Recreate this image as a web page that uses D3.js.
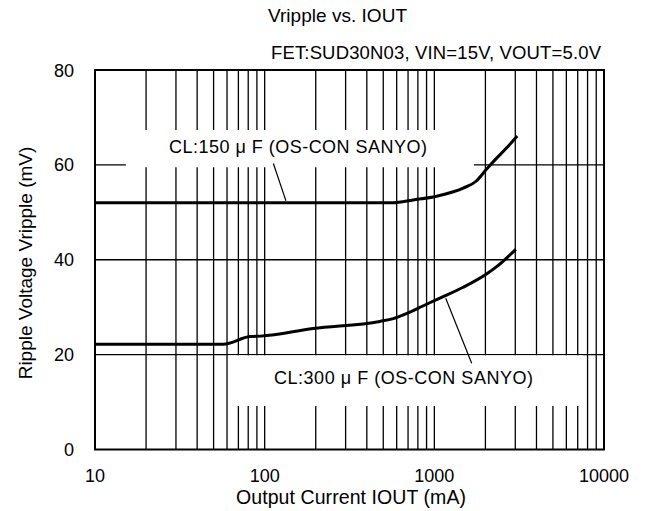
<!DOCTYPE html>
<html>
<head>
<meta charset="utf-8">
<script src="https://cdn.jsdelivr.net/npm/d3@7"></script>
<style>
  html, body { margin: 0; padding: 0; background: #fff; }
  svg text { font-family: "Liberation Sans", Arial, Helvetica, sans-serif; fill: #000; }
</style>
</head>
<body>
<svg id="chart" width="650" height="511"></svg>
<script>
// ---- data ----
const titleText = "Vripple vs. IOUT";
const subtitleText = "FET:SUD30N03, VIN=15V, VOUT=5.0V";
const xLabel = "Output Current IOUT (mA)";
const yLabel = "Ripple Voltage Vripple (mV)";
const xTickValues = [10, 100, 1000, 10000];
const yTickValues = [0, 20, 40, 60, 80];
const yGridValues = [20, 40, 60];

const cl150Current = [10, 100, 400, 570, 750, 1030, 1480, 1770, 2010, 2270, 2670, 3080];
const cl150Ripple  = [52.0, 52.0, 52.0, 52.0, 52.6, 53.4, 55.1, 56.6, 58.9, 61.0, 63.6, 66.1];

const cl300Current = [10, 30, 57, 82, 95, 193, 478, 573, 700, 850, 1030, 1480, 2030, 2340, 3020];
const cl300Ripple  = [22.2, 22.2, 22.2, 23.8, 23.9, 25.5, 27.0, 27.6, 28.8, 30.2, 31.6, 34.2, 37.0, 38.6, 42.2];

const label150 = "CL:150 \u03bc F (OS-CON SANYO)";
const label300 = "CL:300 \u03bc F (OS-CON SANYO)";

// ---- layout ----
const svg = d3.select("#chart");
const x = d3.scaleLog().domain([10, 10000]).range([95, 604]);
const y = d3.scaleLinear().domain([0, 80]).range([449.5, 70]);
const FS = 18;

// vertical grid lines
const gridX = x.ticks().filter(v => v > 10 && v < 10000);
svg.append("g").selectAll("line").data(gridX).join("line")
  .attr("x1", d => x(d)).attr("x2", d => x(d))
  .attr("y1", y(80)).attr("y2", y(0))
  .attr("stroke", "#000").attr("stroke-width", 1.3);

// horizontal grid lines
svg.append("g").selectAll("line").data(yGridValues).join("line")
  .attr("x1", x(10)).attr("x2", x(10000))
  .attr("y1", d => y(d)).attr("y2", d => y(d))
  .attr("stroke", "#000").attr("stroke-width", 1.3);

// label boxes (white, covering grid)
const boxes = [
  { x0: 15.2, x1: 1710, y0: 67.35, y1: 59.5 },
  { x0: 61, x1: 7516, y0: 19.85, y1: 9.17 }
];
svg.append("g").selectAll("rect").data(boxes).join("rect")
  .attr("x", d => x(d.x0)).attr("width", d => x(d.x1) - x(d.x0))
  .attr("y", d => y(d.y0)).attr("height", d => y(d.y1) - y(d.y0))
  .attr("fill", "#fff");

// frame
svg.append("rect")
  .attr("x", x(10)).attr("y", y(80))
  .attr("width", x(10000) - x(10)).attr("height", y(0) - y(80))
  .attr("fill", "none").attr("stroke", "#000").attr("stroke-width", 2);

// curves
const line = d3.line().x(d => x(d[0])).y(d => y(d[1])).curve(d3.curveMonotoneX);
const series = [
  d3.zip(cl150Current, cl150Ripple),
  d3.zip(cl300Current, cl300Ripple)
];
svg.append("g").selectAll("path").data(series).join("path")
  .attr("d", line).attr("fill", "none")
  .attr("stroke", "#000").attr("stroke-width", 3).attr("stroke-linejoin", "round");

// leader lines
const leaders = [
  [[112.5, 60.3], [133.5, 52.4]],
  [[1167, 31.9], [1660, 18.2]]
];
svg.append("g").selectAll("line").data(leaders).join("line")
  .attr("x1", d => x(d[0][0])).attr("y1", d => y(d[0][1]))
  .attr("x2", d => x(d[1][0])).attr("y2", d => y(d[1][1]))
  .attr("stroke", "#000").attr("stroke-width", 1.2);

// series labels
svg.append("text").attr("x", 169).attr("y", 153).attr("font-size", FS)
  .attr("textLength", 258).attr("lengthAdjust", "spacing").text(label150);
svg.append("text").attr("x", 274).attr("y", 384).attr("font-size", FS)
  .attr("textLength", 259).attr("lengthAdjust", "spacing").text(label300);

// x tick labels
svg.append("g").selectAll("text").data(xTickValues).join("text")
  .attr("x", d => x(d)).attr("y", 482).attr("text-anchor", "middle")
  .attr("font-size", FS).text(d => d);

// y tick labels
svg.append("g").selectAll("text").data(yTickValues).join("text")
  .attr("x", 74).attr("y", d => y(d) + 6.5).attr("text-anchor", "end")
  .attr("font-size", FS).text(d => d);

// titles
svg.append("text").attr("x", 268).attr("y", 22)
  .attr("font-size", 19).attr("textLength", 139).attr("lengthAdjust", "spacing").text(titleText);
svg.append("text").attr("x", 271).attr("y", 59)
  .attr("font-size", 18.5).attr("textLength", 330).attr("lengthAdjust", "spacing").text(subtitleText);
svg.append("text").attr("x", 236).attr("y", 504)
  .attr("font-size", 19.5).attr("textLength", 230).attr("lengthAdjust", "spacing").text(xLabel);
svg.append("text").attr("transform", "translate(32,263) rotate(-90)")
  .attr("text-anchor", "middle").attr("font-size", 19).text(yLabel);
</script>
</body>
</html>
